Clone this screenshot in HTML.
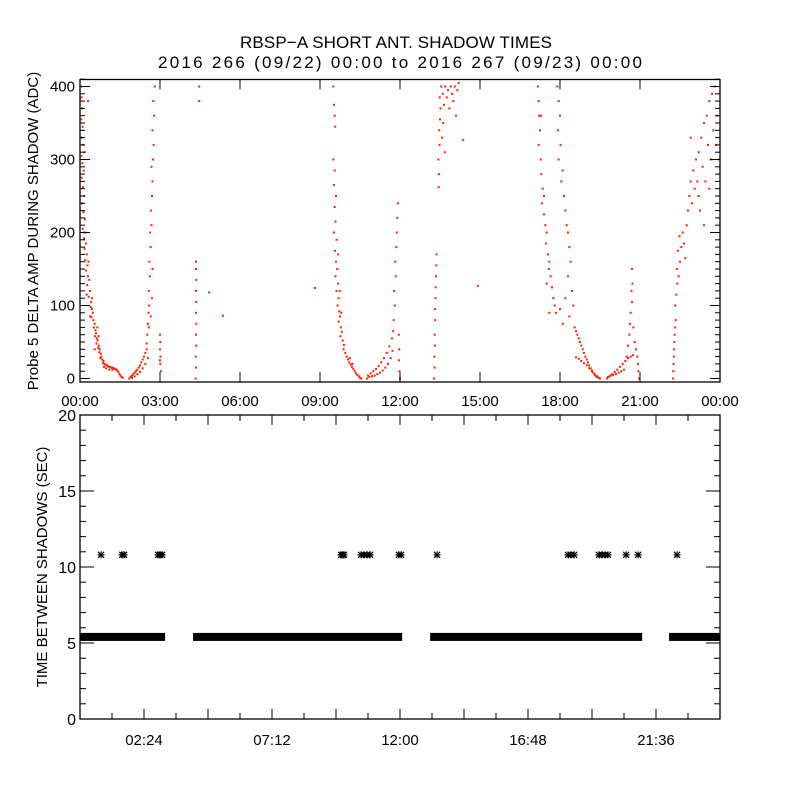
<!DOCTYPE html>
<html><head><meta charset="utf-8"><style>
html,body{margin:0;padding:0;background:#fff;}
svg{display:block;font-family:"Liberation Sans",sans-serif;}
</style></head><body>
<svg id="chart" width="800" height="800" viewBox="0 0 800 800">
<rect x="0" y="0" width="800" height="800" fill="#fff"/>
<text x="396" y="48" text-anchor="middle" font-size="17" textLength="312">RBSP−A SHORT ANT. SHADOW TIMES</text>
<text x="400" y="68" text-anchor="middle" font-size="17" textLength="484">2016 266 (09/22) 00:00 to 2016 267 (09/23) 00:00</text>
<g id="top"></g>
<g id="bot"></g>
</svg>
<script>
// ---- top panel data: [hour, delta amp (ADC)] ----
const ampClusterA = [[0.04,400],[0.06,385],[0.08,370],[0.05,355],[0.1,345],[0.07,330],[0.12,320],[0.05,305],[0.09,295],[0.14,285],[0.06,275],[0.11,262],[0.16,250],[0.08,240],[0.13,228],[0.18,218],[0.1,205],[0.2,200],[0.15,192],[0.22,185],[0.17,178],[0.25,170],[0.2,162],[0.28,155],[0.23,148],[0.3,140],[0.35,135],[0.27,128],[0.38,120],[0.33,112],[0.42,105],[0.4,98],[0.45,95],[0.48,90],[0.43,84],[0.5,80],[0.55,75],[0.52,70],[0.58,66],[0.6,62],[0.56,58],[0.63,55],[0.66,52],[0.62,48],[0.7,45],[0.68,42],[0.74,40],[0.72,36],[0.78,34],[0.8,30],[0.76,28],[0.84,26],[0.88,24],[0.86,21],[0.92,20],[0.96,19],[1.0,18],[1.04,17],[1.08,16],[1.12,16],[1.16,15],[1.2,15],[1.24,14],[1.28,14],[1.32,13],[1.36,12],[1.4,11],[1.44,9],[1.48,6],[1.52,4],[1.56,2],[1.6,1],[0.98,14],[1.1,12],[1.22,12],[0.9,16],[0.15,200],[0.25,115],[0.32,160],[0.45,110],[0.38,85],[0.65,70],[0.7,58],[0.55,40],[0.3,380],[0.18,310]];
const ampClusterB = [[1.85,0],[1.9,2],[1.95,4],[2.0,6],[2.05,8],[2.1,10],[2.15,12],[2.2,15],[2.25,18],[2.3,22],[2.35,26],[2.4,30],[2.45,35],[2.5,40],[1.95,1],[2.05,3],[2.15,6],[2.25,9],[2.35,14],[2.45,20],[2.55,28],[2.5,48],[2.52,60],[2.55,75],[2.57,90],[2.6,100],[2.58,120],[2.62,140],[2.6,160],[2.65,180],[2.63,200],[2.68,210],[2.66,230],[2.7,250],[2.72,270],[2.68,290],[2.74,300],[2.76,320],[2.72,340],[2.78,360],[2.75,380],[2.8,400],[2.7,110],[2.65,85],[2.72,150],[2.58,70],[3.0,60],[3.01,50],[3.0,40],[3.02,30],[3.01,20],[3.03,10],[3.0,25]];
const ampClusterC = [[4.34,0],[4.35,15],[4.34,30],[4.36,45],[4.35,60],[4.36,75],[4.35,90],[4.36,105],[4.35,120],[4.36,135],[4.35,150],[4.35,160],[4.47,400],[4.47,380],[4.84,118],[5.36,86],[8.81,124]];
const ampClusterD = [[9.5,400],[9.52,375],[9.55,360],[9.57,345],[9.5,300],[9.55,285],[9.52,265],[9.6,250],[9.55,235],[9.58,215],[9.52,200],[9.62,190],[9.56,175],[9.6,160],[9.65,150],[9.58,140],[9.68,130],[9.62,120],[9.7,110],[9.66,100],[9.72,92],[9.75,85],[9.7,78],[9.78,70],[9.82,64],[9.76,58],[9.85,52],[9.9,46],[9.88,40],[9.95,35],[10.0,30],[10.05,26],[10.1,22],[10.15,19],[10.2,16],[10.25,13],[10.3,10],[10.35,7],[10.4,5],[10.45,3],[10.5,1],[10.55,0],[10.12,28],[10.22,20],[9.8,90],[9.74,120],[9.68,170]];
const ampClusterE = [[10.76,0],[10.85,2],[10.95,3],[11.05,4],[11.15,6],[11.25,8],[11.35,11],[11.45,15],[11.55,20],[11.65,28],[11.72,38],[10.8,4],[10.9,7],[11.0,10],[11.1,13],[11.2,17],[11.3,22],[11.4,28],[11.5,35],[11.6,44],[11.7,55],[11.74,65],[11.76,80],[11.8,100],[11.78,120],[11.84,140],[11.82,160],[11.86,180],[11.88,200],[11.9,220],[11.92,240],[11.95,60],[11.97,40],[11.96,25],[11.98,10],[12.0,0]];
const ampClusterF = [[13.28,0],[13.3,15],[13.29,30],[13.31,45],[13.3,60],[13.32,80],[13.31,95],[13.33,110],[13.34,125],[13.35,140],[13.36,155],[13.37,170],[13.45,262],[13.46,280],[13.44,300],[13.48,320],[13.47,340],[13.5,355],[13.52,370],[13.49,385],[13.55,400],[13.6,390],[13.65,375],[13.7,400],[13.75,385],[13.8,395],[13.85,370],[13.9,400],[13.95,390],[14.0,380],[14.05,400],[14.1,360],[14.15,395],[14.2,405],[14.37,327],[14.92,127],[13.58,330],[13.62,350],[13.68,310]];
const ampClusterG = [[17.17,400],[17.2,380],[17.22,360],[17.25,340],[17.2,320],[17.28,300],[17.3,280],[17.35,260],[17.32,240],[17.4,225],[17.45,210],[17.5,200],[17.48,185],[17.55,170],[17.6,160],[17.58,150],[17.65,140],[17.7,125],[17.75,110],[17.8,100],[17.85,90],[17.9,400],[17.95,380],[18.0,360],[17.92,340],[18.02,320],[17.95,300],[18.1,285],[18.05,270],[18.15,250],[18.2,230],[18.25,210],[18.3,200],[18.35,180],[18.4,160],[18.3,140],[18.45,120],[18.2,110],[18.5,100],[18.0,95],[18.35,85],[18.1,75],[18.55,70],[18.6,65],[18.65,60],[18.7,55],[18.75,50],[18.8,45],[18.85,40],[18.9,35],[18.95,30],[19.0,26],[19.05,22],[19.1,18],[19.15,14],[19.2,11],[19.25,8],[19.3,5],[19.35,3],[19.4,2],[19.45,1],[18.6,29],[18.7,27],[18.8,24],[18.9,21],[19.0,18],[19.1,14],[19.2,10],[19.3,6],[19.4,3],[19.5,0],[17.6,90],[17.5,130],[17.4,250],[17.3,360]];
const ampClusterGr = [[19.76,0],[19.85,3],[19.95,6],[20.05,9],[20.15,12],[20.25,16],[20.35,20],[20.45,24],[20.55,28],[20.65,30],[20.74,32],[19.8,2],[19.9,4],[20.0,5],[20.1,6],[20.2,8],[20.3,10],[20.4,12],[20.5,30],[20.55,45],[20.6,60],[20.62,75],[20.65,90],[20.7,105],[20.68,120],[20.72,130],[20.7,150],[20.75,70],[20.8,50],[20.85,40],[20.9,30],[20.92,20],[20.94,10],[20.97,0]];
const ampClusterH = [[22.24,0],[22.25,10],[22.26,20],[22.27,30],[22.28,40],[22.29,50],[22.3,60],[22.32,70],[22.34,80],[22.32,100],[22.36,115],[22.4,130],[22.38,150],[22.45,140],[22.5,160],[22.42,175],[22.55,180],[22.48,195],[22.6,200],[22.65,185],[22.7,165],[22.75,210],[22.8,230],[22.85,250],[22.9,270],[22.95,240],[23.0,285],[23.05,260],[23.1,300],[23.15,270],[23.2,310],[23.25,230],[23.3,330],[23.35,290],[23.4,350],[23.45,270],[23.5,360],[23.55,320],[23.6,380],[23.65,300],[23.7,390],[23.75,340],[23.8,400],[23.85,320],[23.9,360],[23.95,300],[22.9,330],[23.2,250],[23.4,210],[23.6,260]];
const ampClusters = [ampClusterA, ampClusterB, ampClusterC, ampClusterD, ampClusterE, ampClusterF, ampClusterG, ampClusterGr, ampClusterH];
const topXTickLabels = ["00:00","03:00","06:00","09:00","12:00","15:00","18:00","21:00","00:00"];
const topYTickLabels = ["0","100","200","300","400"];

// ---- bottom panel data ----
const bandStartHours = [0.0, 4.24, 13.13, 22.09];
const bandEndHours   = [3.19, 12.08, 21.08, 24.0];
const bandValue = 5.4;
const starHours = [0.79,1.58,1.65,2.93,3.0,3.08,9.79,9.86,9.9,10.54,10.65,10.76,10.88,11.96,12.04,13.39,18.3,18.41,18.53,19.46,19.58,19.69,19.8,20.48,20.93,22.39];
const starValue = 10.8;
const botXTickLabels = ["02:24","07:12","12:00","16:48","21:36"];
const botYTickLabels = ["0","5","10","15","20"];

const NS="http://www.w3.org/2000/svg";
function mk(tag, attrs, parent){const e=document.createElementNS(NS,tag);for(const k in attrs)e.setAttribute(k,attrs[k]);parent.appendChild(e);return e;}
const L=80,R=720;
const xs = h => L + h/24*(R-L);
const topG=document.getElementById('top'), botG=document.getElementById('bot');
const yTop = v => 378.5 - v*0.73;
const yBot = v => 719 - v*15.2;

let f=mk('rect',{x:80,y:79.5,width:640,height:302.5,fill:'none',stroke:'#000','stroke-width':1.3},topG);


ampClusters.forEach(c=>c.forEach(p=>{
  const d=mk('rect',{x:(xs(p[0])-1).toFixed(1),y:(yTop(p[1])-1).toFixed(1),width:2,height:2,fill:'#ff2000'},topG);
  
  
}));
topXTickLabels.forEach((lab,i)=>{
  const x=xs(i*3);
  mk('line',{x1:x,y1:382,x2:x,y2:372,stroke:'#000'},topG);
  mk('line',{x1:x,y1:79.5,x2:x,y2:89.5,stroke:'#000'},topG);
  const t=mk('text',{x:x,y:406,'text-anchor':'middle','font-size':15},topG);
  t.textContent=lab;
  
  
});
for(let v=0;v<=410;v+=10){
  const y=yTop(v), len=(v%100===0)?10:5;
  mk('line',{x1:80,y1:y,x2:80+len,y2:y,stroke:'#000'},topG);
  mk('line',{x1:720,y1:y,x2:720-len,y2:y,stroke:'#000'},topG);
}
topYTickLabels.forEach((lab,i)=>{
  const t=mk('text',{x:75,y:yTop(i*100)+5,'text-anchor':'end','font-size':15},topG);
  t.textContent=lab;
  
  
});
let yt=mk('text',{x:0,y:0,'text-anchor':'middle','font-size':15,transform:'translate(38,231) rotate(-90)'},topG);
yt.textContent='Probe 5 DELTA AMP DURING SHADOW (ADC)';



let fb=mk('rect',{x:80,y:415,width:640,height:304,fill:'none',stroke:'#000','stroke-width':1.3},botG);


for(let v=0;v<=20;v++){
  const y=yBot(v), len=(v%5===0)?14:6;
  mk('line',{x1:80,y1:y,x2:80+len,y2:y,stroke:'#000'},botG);
  mk('line',{x1:720,y1:y,x2:720-len,y2:y,stroke:'#000'},botG);
}
botYTickLabels.forEach((lab,i)=>{
  const t=mk('text',{x:76,y:yBot(i*5)+6,'text-anchor':'end','font-size':16},botG);
  t.textContent=lab;
  
  
});
for(let k=1;k<20;k++){
  const x=xs(k*1.2), len=(k%2===0)?10:6;
  mk('line',{x1:x,y1:719,x2:x,y2:719-len,stroke:'#000'},botG);
  mk('line',{x1:x,y1:415,x2:x,y2:415+len,stroke:'#000'},botG);
}
botXTickLabels.forEach((lab,i)=>{
  const t=mk('text',{x:xs((i*2+1)*2.4),y:745,'text-anchor':'middle','font-size':15},botG);
  t.textContent=lab;
  
  
});
let yb=mk('text',{x:0,y:0,'text-anchor':'middle','font-size':15,transform:'translate(47,567) rotate(-90)'},botG);
yb.textContent='TIME BETWEEN SHADOWS (SEC)';


bandStartHours.forEach((s,i)=>{
  const x1=xs(s), x2=xs(bandEndHours[i]), y=yBot(bandValue);
  const r=mk('rect',{x:x1,y:y-4,width:x2-x1,height:8,fill:'#000'},botG);
  
  
});
starHours.forEach(h=>{
  const x=xs(h), y=yBot(starValue);
  const g=mk('g',{stroke:'#000','stroke-width':1.2},botG);
  
  
  mk('line',{x1:x-3.5,y1:y,x2:x+3.5,y2:y},g);
  mk('line',{x1:x,y1:y-3.5,x2:x,y2:y+3.5},g);
  mk('line',{x1:x-3,y1:y-3,x2:x+3,y2:y+3},g);
  mk('line',{x1:x-3,y1:y+3,x2:x+3,y2:y-3},g);
});
</script>
</body></html>
